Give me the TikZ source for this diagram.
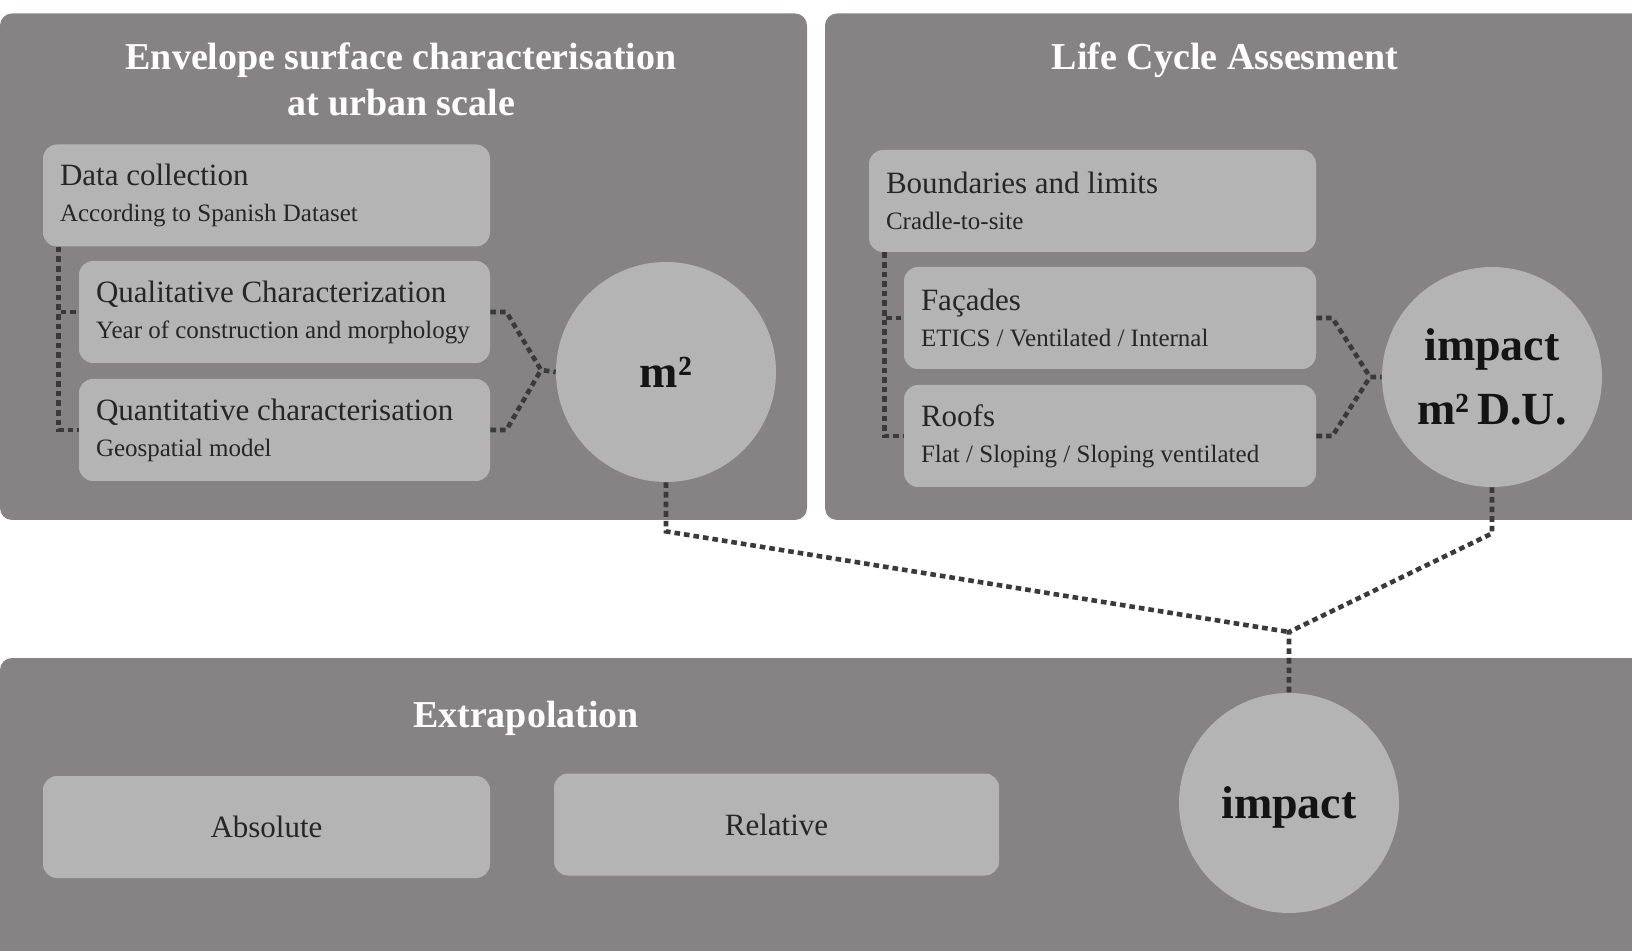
\documentclass[tikz,border=0pt]{standalone}
\usepackage{fontspec}
\setmainfont{Liberation Serif}
\usepackage{xcolor}
\usetikzlibrary{positioning, calc}
\definecolor{panelgray}{HTML}{858384}
\definecolor{boxgray}{HTML}{B5B4B5}
\definecolor{linkgray}{HTML}{3A3A3A}
\definecolor{txtgray}{HTML}{262626}
\newcommand{\subline}[1]{{\fontsize{12.5}{18}\selectfont #1}}
\tikzset{
  panel/.style={fill=panelgray, rounded corners=6pt},
  stage/.style={fill=boxgray, rounded corners=7pt, align=flush left, inner xsep=8.5pt, inner ysep=0pt, minimum height=51pt, text=txtgray, font=\fontsize{15.5}{18}\selectfont},
  plain/.style={fill=boxgray, rounded corners=7pt, align=center, minimum height=51pt, text=txtgray, font=\fontsize{15.5}{18}\selectfont},
  result/.style={circle, fill=boxgray, minimum size=110pt, inner sep=0pt, align=center, text=black!92, font=\bfseries\fontsize{23}{32}\selectfont},
  heading/.style={text=white, align=center, font=\bfseries\fontsize{19}{23}\selectfont},
  link/.style={draw=linkgray, line width=2.3pt, dash pattern=on 2.8pt off 2pt}
}

\begin{document}
\begin{tikzpicture}[x=0.5pt,y=-0.5pt]
    \useasboundingbox (0,0) rectangle (1632,951);
    % panels
    \fill[panel] (0,13.5) rectangle (807,520);
    \fill[panel] (825,13.5) rectangle (1650,520);
    \fill[panel] (0,658) rectangle (1650,980);
    \node[heading] (envt) at (401,79) {Envelope surface characterisation\\at urban scale};
    \node[heading] (lcat) at (1225,60) {Life Cycle Assesment};
    \node[heading] (extt) at (526,718) {Extrapolation};
    % envelope side
    \node[stage, text width=206.5pt] (dc) at (266.5,195.5) {Data collection\\\subline{According to Spanish Dataset}};
    \node[stage, text width=188.5pt] (qual) at (284.5,312) {Qualitative Characterization\\\subline{Year of construction and morphology}};
    \node[stage, text width=188.5pt] (quant) at (284.5,430) {Quantitative characterisation\\\subline{Geospatial model}};
    \node[result] (msq) at (666,372) {m²};
    % LCA side
    \node[stage, text width=206.5pt] (bound) at (1092.5,201) {Boundaries and limits\\\subline{Cradle-to-site}};
    \node[stage, text width=189pt] (fac) at (1110,318) {Façades\\\subline{ETICS / Ventilated / Internal}};
    \node[stage, text width=189pt] (roof) at (1110,436) {Roofs\\\subline{Flat / Sloping / Sloping ventilated}};
    \node[result] (imdu) at (1492,377) {impact\\m²\,D.U.};
    % extrapolation
    \node[plain, minimum width=223.5pt] (abs) at (266.5,827) {Absolute};
    \node[plain, minimum width=222.5pt] (rel) at (776.5,824.5) {Relative};
    \node[result, text depth=0pt] (imp) at (1289,803) {impact};
    % connectors
    \coordinate (lj) at (541,370);
    \coordinate (rj) at (1370,377);
    \coordinate (bj) at (1289,632);
    \draw[link] ([xshift=8pt]dc.south west) |- (qual.west);
    \draw[link] ([xshift=8pt]dc.south west) |- (quant.west);
    \draw[link] (qual.east) -- ++(16,0) -- (lj) -- (msq.west);
    \draw[link] (quant.east) -- ++(16,0) -- (lj);
    \draw[link] ([xshift=8pt]bound.south west) |- (fac.west);
    \draw[link] ([xshift=8pt]bound.south west) |- (roof.west);
    \draw[link] (fac.east) -- ++(16,0) -- (rj) -- (imdu.west);
    \draw[link] (roof.east) -- ++(16,0) -- (rj);
    \draw[link] (msq.south) -- ++(0,49) -- (bj);
    \draw[link] (imdu.south) -- ++(0,46) -- (bj) -- (imp.north);
\end{tikzpicture}
\end{document}
